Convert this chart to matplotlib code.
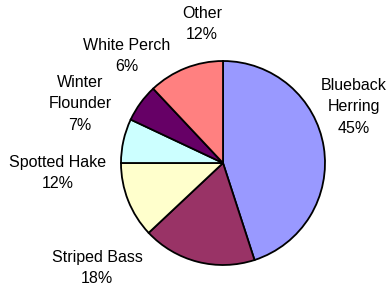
import matplotlib.pyplot as plt

species = ['Blueback\nHerring', 'Striped Bass', 'Spotted Hake', 'Winter\nFlounder', 'White Perch', 'Other']
shares = [45, 18, 12, 7, 6, 12]
colors = ['#9999FF', '#993366', '#FFFFCC', '#CCFFFF', '#660066', '#FF8080']
# label centres in pixels (x, y from top)
label_pos = [(354, 107), (97, 268), (58, 173), (80, 104), (127, 56), (202, 24)]

W, H = 391, 292
fig = plt.figure(figsize=(W / 100, H / 100), dpi=100)
ax = fig.add_axes([0, 0, 1, 1])

ax.pie(shares, colors=colors, startangle=90, counterclock=False,
       center=(223, H - 163), radius=102, frame=True,
       wedgeprops=dict(edgecolor='black', linewidth=1.3))
ax.set_xlim(0, W)
ax.set_ylim(0, H)
ax.set_aspect('equal')
ax.axis('off')

for name, val, (x, y) in zip(species, shares, label_pos):
    ax.text(x, H - y, f'{name}\n{val}%', ha='center', va='center',
            fontsize=11.5, family='Liberation Sans', linespacing=1.55)

fig.savefig('out.png', dpi=100)
